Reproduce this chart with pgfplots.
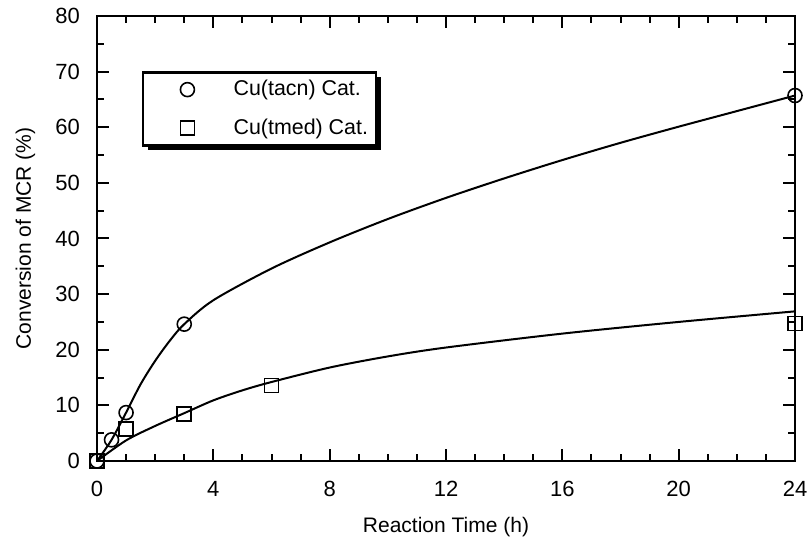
\documentclass[border=0pt]{standalone}
\usepackage{fontspec}
\setmainfont{Liberation Sans}
\usepackage{pgfplots}
\pgfplotsset{compat=1.18}
\usetikzlibrary{calc,shadows}

\begin{document}
\begin{tikzpicture}
\begin{axis}[
  name=ax, scale only axis, width=349pt, height=222.5pt,
  xmin=0, xmax=24, ymin=0, ymax=80,
  xtick={0,4,...,24}, ytick={0,10,...,80},
  minor x tick num=3, minor y tick num=1,
  major tick length=6pt, minor tick length=3.5pt,
  axis line style={line width=1.2pt},
  every tick/.style={black, line width=1pt},
  /pgf/number format/assume math mode=true,
  ticklabel style={font=\fontsize{11}{13}\selectfont},
  xticklabel style={yshift=-6.5pt},
  yticklabel style={xshift=-5pt},
  xlabel={Reaction Time (h)},
  ylabel={Conversion of MCR (\%)},
  label style={font=\fontsize{10.5}{12}\selectfont},
  xlabel style={at={(axis description cs:0.5,0)}, anchor=base, yshift=-36pt},
  ylabel style={at={(axis description cs:0,0.5)}, anchor=base, yshift=33pt},
  clip=false,
  legend cell align=left,
  legend image code/.code={\path (-19.5pt,0) (20.5pt,0); \draw[#1] plot coordinates {(0pt,0pt)};},
  legend style={at={(rel axis cs:0.0645,0.876)}, anchor=north west,
    draw=black, line width=1.2pt, fill=white,
    inner xsep=2pt, inner ysep=2pt, row sep=6pt,
    font=\fontsize{10.7}{12.5}\selectfont,
    nodes={inner sep=2pt, font=\fontsize{10.7}{12.5}\selectfont},
    drop shadow={shadow xshift=2.5pt, shadow yshift=-2.5pt, opacity=1, fill=black}},
]
% fitted curves
\addplot[black, line width=1pt, smooth, no marks, forget plot] coordinates {
  (0,0) (0.5,3.8) (1,8.7) (1.5,13.8) (2,18) (2.5,21.6) (3,24.6) (4,28.9)
  (6,34.6) (8,39.3) (10,43.5) (12,47.3) (14,50.8) (16,54.1) (18,57.2)
  (20,60.1) (22,62.9) (24,65.7)};
\addplot[black, line width=1pt, smooth, no marks, forget plot] coordinates {
  (0,0) (1,3.7) (2,6.3) (3,8.6) (4,10.9) (5,12.7) (6,14.2) (8,16.8)
  (10,18.8) (12,20.4) (16,22.9) (20,25) (24,26.9)};
% measured points
\addplot[only marks, mark=o, mark size=3.5pt, mark options={line width=0.8pt, fill=white, draw=black}] coordinates {
  (0,0) (0.5,3.8) (1,8.7) (3,24.6) (24,65.7)};
\addlegendentry{Cu(tacn) Cat.}
\addplot[only marks, mark=square, mark size=3.5pt, mark options={line width=0.8pt, fill=white, draw=black}] coordinates {
  (0,0) (1,5.7) (3,8.4) (6,13.6) (24,24.7)};
\addlegendentry{Cu(tmed) Cat.}
\end{axis}
\pgfresetboundingbox
\path ($(ax.south west)+(-48.5pt,-38.5pt)$) rectangle ($(ax.north east)+(6pt,8pt)$);
\end{tikzpicture}
\end{document}
